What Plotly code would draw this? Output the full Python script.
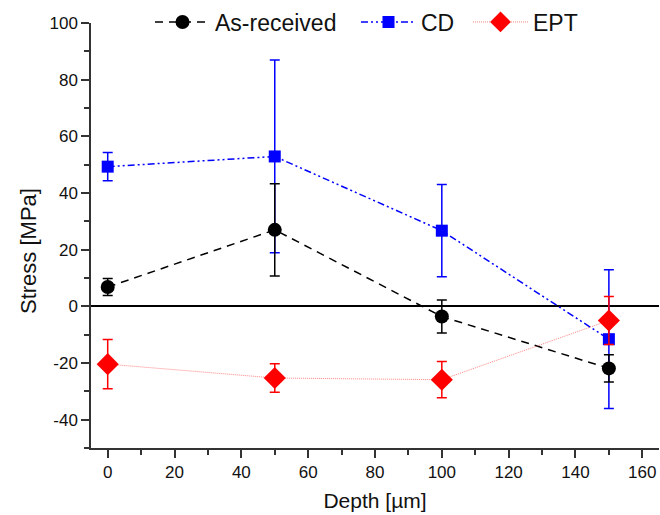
import plotly.graph_objects as go

# Depth positions (µm)
depth = [0, 50, 100, 150]

# Residual stress (MPa) and error-bar half widths
as_received = [6.8, 27.0, -3.6, -21.9]
as_received_err = [3.0, 16.3, 5.8, 4.8]

cd = [49.3, 52.9, 26.7, -11.6]
cd_err = [5.0, 34.0, 16.3, 24.5]

ept = [-20.4, -25.3, -25.9, -5.0]
ept_err = [8.7, 5.0, 6.4, 8.5]

# Axis tick labels
x_ticks = [0, 20, 40, 60, 80, 100, 120, 140, 160]
x_labels = ["0", "20", "40", "60", "80", "100", "120", "140", "160"]
y_ticks = [-40, -20, 0, 20, 40, 60, 80, 100]
y_labels = ["-40", "-20", "0", "20", "40", "60", "80", "100"]

FONT = "Liberation Sans, Arial, sans-serif"
W, H = 660, 515
M_L, M_R, M_T, M_B = 91, 1, 23, 67
PLOT_W = W - M_L - M_R
PLOT_H = H - M_T - M_B

fig = go.Figure()

fig.add_trace(go.Scatter(
    x=depth, y=cd, name="CD", legend="legend2",
    mode="lines+markers",
    line=dict(color="#0000ff", width=1.5, dash="7px,3px,2px,3px,2px,3px"),
    marker=dict(symbol="square", size=12, color="#0000ff"),
    error_y=dict(type="data", array=cd_err, color="#0000ff", thickness=1.5, width=5),
))

fig.add_trace(go.Scatter(
    x=depth, y=as_received, name="As-received", legend="legend",
    mode="lines+markers",
    line=dict(color="black", width=1.5, dash="8px,6px"),
    marker=dict(symbol="circle", size=14, color="black"),
    error_y=dict(type="data", array=as_received_err, color="black", thickness=1.5, width=5),
))

fig.add_trace(go.Scatter(
    x=depth, y=ept, name="EPT", legend="legend3",
    mode="lines+markers",
    line=dict(color="#ff5050", width=0.7, dash="1px,1px"),
    marker=dict(symbol="diamond", size=17, color="#ff0000"),
    error_y=dict(type="data", array=ept_err, color="#ff0000", thickness=1.5, width=5),
))

axis_common = dict(
    showline=True, linecolor="#333333", linewidth=1.5,
    ticks="outside", ticklen=8, tickwidth=1.5, tickcolor="#333333",
    showgrid=False, mirror=False,
    tickfont=dict(family=FONT, size=17, color="#111111"),
)

fig.update_xaxes(
    **axis_common,
    range=[-5, 165], tickvals=x_ticks, ticktext=x_labels,
    minor=dict(dtick=10, tick0=0, ticks="outside", ticklen=5, tickwidth=1.5, tickcolor="#333333"),
    zeroline=False,
    title=dict(text="Depth [µm]", font=dict(family=FONT, size=21, color="#111111"), standoff=12),
)
fig.update_yaxes(
    **axis_common,
    range=[-50, 100], tickvals=y_ticks, ticktext=y_labels,
    minor=dict(dtick=10, tick0=0, ticks="outside", ticklen=5, tickwidth=1.5, tickcolor="#333333"),
    zeroline=True, zerolinecolor="black", zerolinewidth=1.5,
)

# y-axis title, set a little below the axis centre
fig.add_annotation(
    text="Stress [MPa]", textangle=-90, showarrow=False,
    xref="paper", yref="paper",
    x=(28 - M_L) / PLOT_W, y=(H - M_B - 251) / PLOT_H,
    xanchor="center", yanchor="middle",
    font=dict(family=FONT, size=22, color="#111111"),
)


def legend_at(px):
    # one-entry legend anchored at a pixel column along the top edge
    return dict(
        x=(px - M_L) / PLOT_W, y=(H - M_B - 22) / PLOT_H,
        xanchor="left", yanchor="middle",
        font=dict(family=FONT, size=23, color="#111111"),
        bgcolor="rgba(0,0,0,0)", itemwidth=55, borderwidth=0,
    )


fig.update_layout(
    width=W, height=H,
    margin=dict(l=M_L, r=M_R, t=M_T, b=M_B, autoexpand=False),
    paper_bgcolor="white", plot_bgcolor="white",
    showlegend=True,
    legend=legend_at(150),
    legend2=legend_at(356),
    legend3=legend_at(468),
)

fig.write_html("out.html")
